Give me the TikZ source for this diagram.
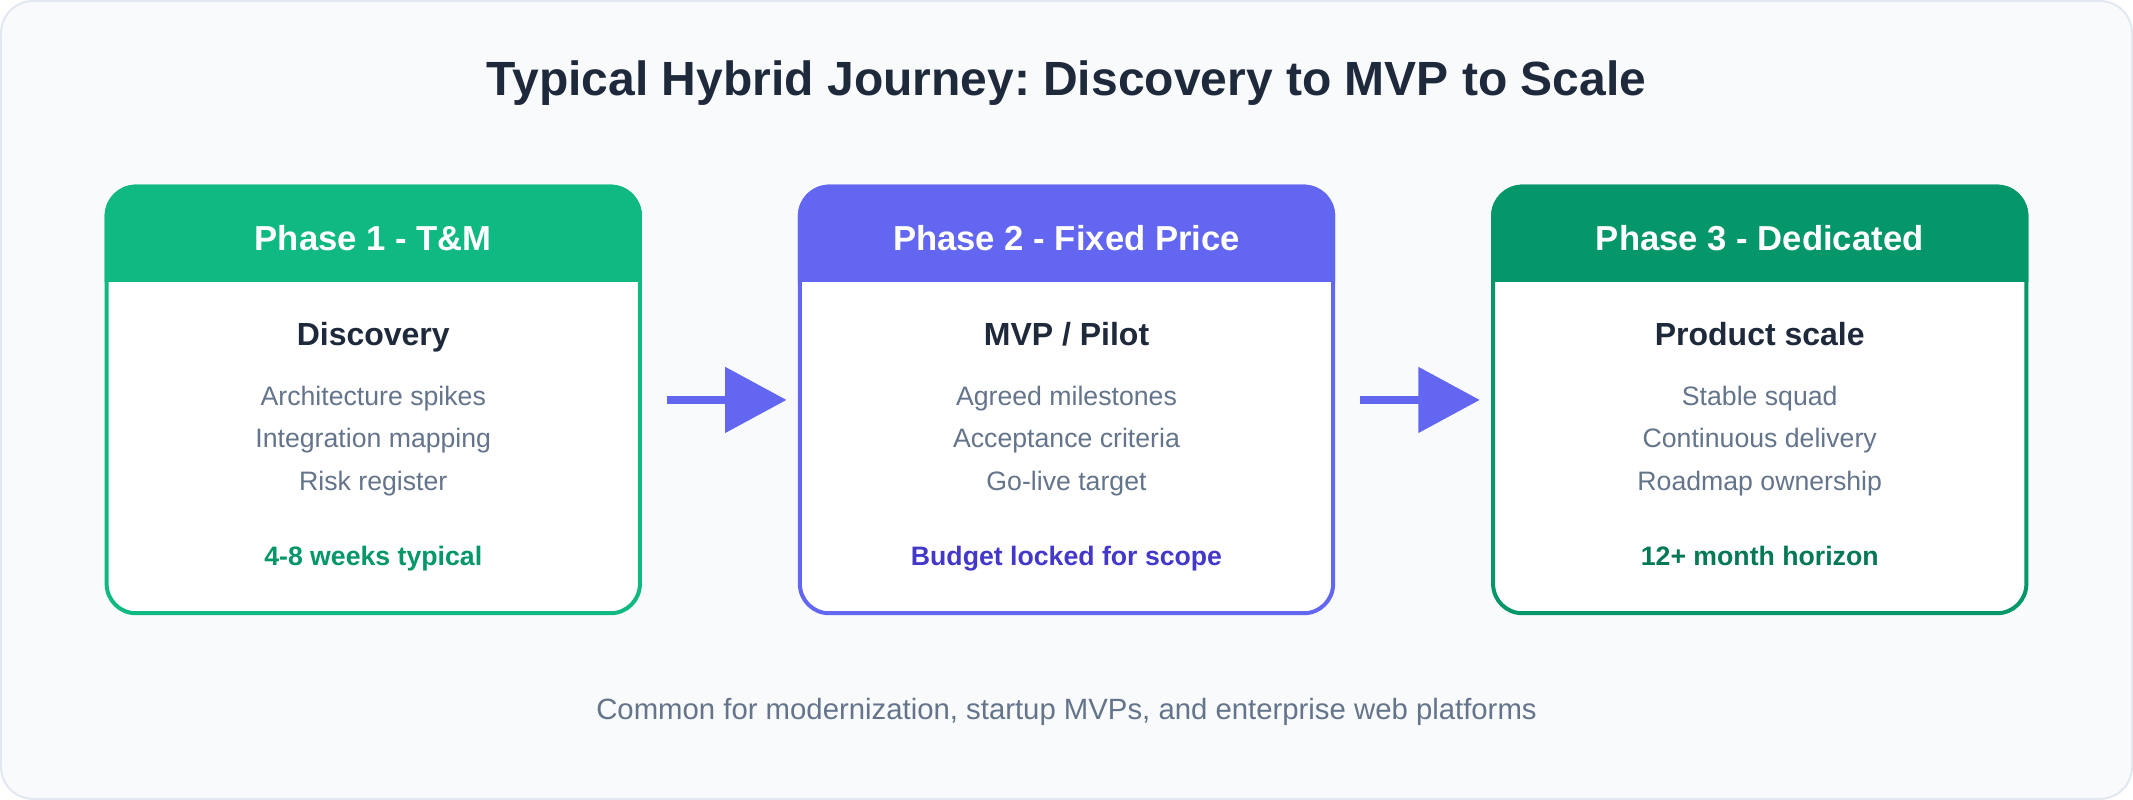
\documentclass[tikz,border=0pt]{standalone}
\usepackage{fontspec}
\setmainfont{Liberation Sans}
\usetikzlibrary{arrows.meta}
\frenchspacing
\definecolor{bgc}{HTML}{F8FAFC}
\definecolor{bdc}{HTML}{E2E8F0}
\definecolor{emA}{HTML}{10B981}
\definecolor{indA}{HTML}{6366F1}
\definecolor{emB}{HTML}{059669}
\definecolor{emC}{HTML}{047857}
\definecolor{indB}{HTML}{4338CA}
\definecolor{ink}{HTML}{1E293B}
\definecolor{muted}{HTML}{64748B}
\tikzset{
  phasebox/.style={draw=#1, fill=white, line width=4pt, rounded corners=29.33pt,
    minimum width=533.33pt, minimum height=426.67pt, inner sep=0pt, outer sep=0pt},
  titletext/.style={text=ink, font=\fontsize{48}{56}\selectfont\bfseries, anchor=base, inner sep=0pt},
  headtext/.style={text=white, font=\fontsize{34.67}{40}\selectfont\bfseries, anchor=base, inner sep=0pt},
  subhead/.style={text=ink, font=\fontsize{32}{38}\selectfont\bfseries, anchor=base, inner sep=0pt},
  itemtext/.style={text=muted, font=\fontsize{26.67}{32}\selectfont, anchor=base, inner sep=0pt},
  notetext/.style={text=#1, font=\fontsize{26.67}{32}\selectfont\bfseries, anchor=base, inner sep=0pt},
  foottext/.style={text=muted, font=\fontsize{29.33}{34}\selectfont, anchor=base, inner sep=0pt},
  flowarrow/.style={draw=indA, line width=8pt, -{Triangle[length=61.33pt, width=64pt]}},
}
\begin{document}
\begin{tikzpicture}[x=1.33333pt, y=-1.33333pt]
\useasboundingbox (0,0) rectangle (1600,600);
\draw[bdc, fill=bgc, line width=2pt, rounded corners=32pt] (0.75,0.75) rectangle (1599.25,599.25);

\node[titletext] (title) at (800,71.5) {Typical Hybrid Journey: Discovery to MVP to Scale};

% boxes
\node[phasebox=emA] (b1) at (280,300) {};
\node[phasebox=indA] (b2) at (800,300) {};
\node[phasebox=emB] (b3) at (1320,300) {};

% headers
\begin{scope}
  \clip (0,0) rectangle (1600,211.5);
  \fill[emA, rounded corners=31.33pt] (78.5,138.5) rectangle (481.5,461.5);
  \fill[indA, rounded corners=31.33pt] (598.5,138.5) rectangle (1001.5,461.5);
  \fill[emB, rounded corners=31.33pt] (1118.5,138.5) rectangle (1521.5,461.5);
\end{scope}

% box 1
\node[headtext] (h1) at (280,188) {Phase 1 - T\&M};
\node[subhead] (s1) at (280,259.5) {Discovery};
\node[itemtext] (i11) at (280,304) {Architecture spikes};
\node[itemtext] (i12) at (280,336) {Integration mapping};
\node[itemtext] (i13) at (280,368) {Risk register};
\node[notetext=emB] (n1) at (280,424) {4-8 weeks typical};

% box 2
\node[headtext] (h2) at (800,188) {Phase 2 - Fixed Price};
\node[subhead] (s2) at (800,259.5) {MVP / Pilot};
\node[itemtext] (i21) at (800,304) {Agreed milestones};
\node[itemtext] (i22) at (800,336) {Acceptance criteria};
\node[itemtext] (i23) at (800,368) {Go-live target};
\node[notetext=indB] (n2) at (800,424) {Budget locked for scope};

% box 3
\node[headtext] (h3) at (1320,188) {Phase 3 - Dedicated};
\node[subhead] (s3) at (1320,259.5) {Product scale};
\node[itemtext] (i31) at (1320,304) {Stable squad};
\node[itemtext] (i32) at (1320,336) {Continuous delivery};
\node[itemtext] (i33) at (1320,368) {Roadmap ownership};
\node[notetext=emC] (n3) at (1320,424) {12+ month horizon};

% arrows
\draw[flowarrow] ([xshift=26.67pt]b1.east) -- ([xshift=-13.33pt]b2.west);
\draw[flowarrow] ([xshift=26.67pt]b2.east) -- ([xshift=-13.33pt]b3.west);

\node[foottext] (foot) at (800,539.5) {Common for modernization, startup MVPs, and enterprise web platforms};
\end{tikzpicture}
\end{document}
